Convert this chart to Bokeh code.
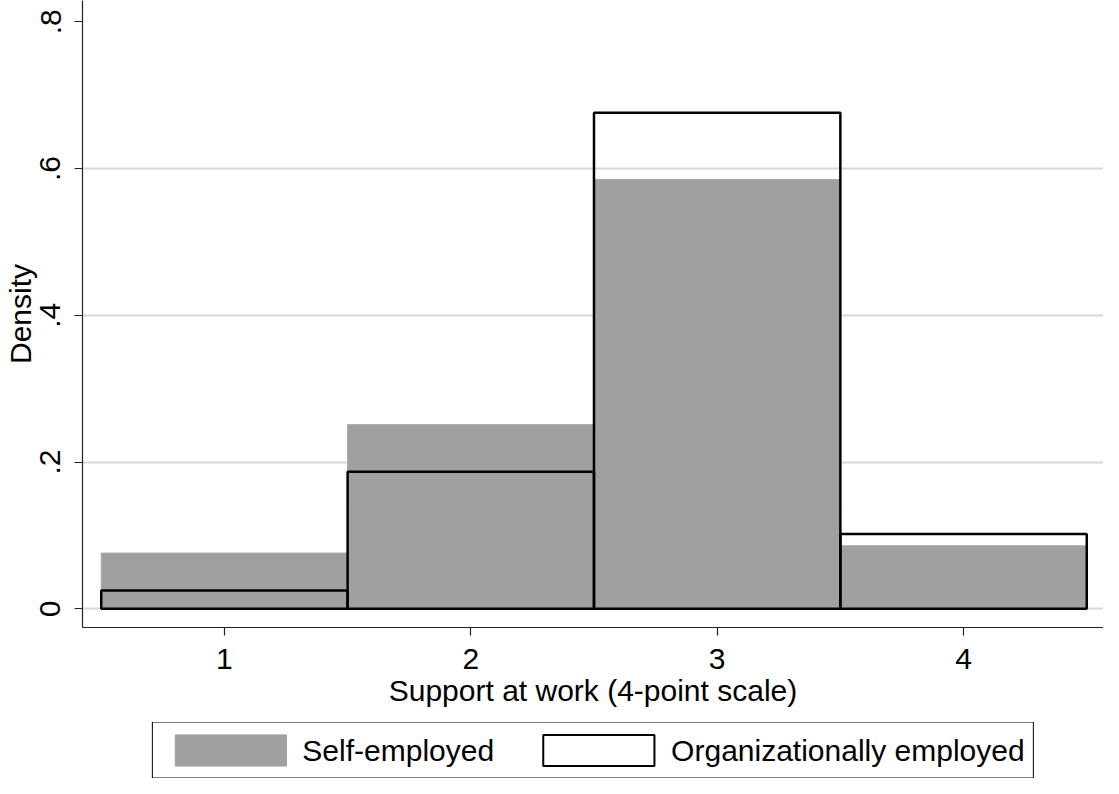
from bokeh.plotting import figure
from bokeh.layouts import column
from bokeh.models import (ColumnDataSource, Legend, LegendItem, FixedTicker,
                          CustomJSTickFormatter)
from bokeh.embed import file_html
from bokeh.resources import INLINE

# ---- data ----
categories = [1, 2, 3, 4]
self_employed = [0.076, 0.251, 0.585, 0.086]
org_employed = [0.025, 0.187, 0.676, 0.102]
y_ticks = [0, 0.2, 0.4, 0.6, 0.8]
x_ticks = [1, 2, 3, 4]
series_labels = ["Self-employed", "Organizationally employed"]

FONT = "Liberation Sans"
FS = "30px"
GRAY = "#a0a0a0"

src = ColumnDataSource(dict(
    left=[c - 0.5 for c in categories],
    right=[c + 0.5 for c in categories],
    self=self_employed,
    org=org_employed,
))

p = figure(width=1103, height=722, x_range=(0.424, 4.568), y_range=(-0.0254, 0.829),
           output_backend="svg", toolbar_location=None,
           min_border_left=82, min_border_right=0, min_border_top=0, min_border_bottom=95)
p.outline_line_color = None
p.background_fill_color = "white"
p.border_fill_color = "white"

p.quad(left="left", right="right", bottom=0, top="self", source=src,
       fill_color=GRAY, line_color="#a8a8a8", line_width=1)
p.quad(left="left", right="right", bottom=0, top="org", source=src,
       fill_alpha=0, line_color="black", line_width=2.5)

# grid
p.xgrid.visible = False
p.ygrid.ticker = FixedTicker(ticks=[0, 0.2, 0.4, 0.6])
p.ygrid.grid_line_color = "#d8d8d8"
p.ygrid.grid_line_width = 2

# axes
for ax in (p.xaxis[0], p.yaxis[0]):
    ax.axis_line_color = "#222222"
    ax.axis_line_width = 1.2
    ax.major_tick_line_color = "#222222"
    ax.major_tick_line_width = 1.2
    ax.major_tick_out = 8
    ax.major_tick_in = 0
    ax.minor_tick_line_color = None
    ax.major_label_text_font = FONT
    ax.major_label_text_font_size = FS
    ax.major_label_text_color = "black"
    ax.axis_label_text_font = FONT
    ax.axis_label_text_font_size = FS
    ax.axis_label_text_font_style = "normal"
    ax.axis_label_text_color = "black"

p.xaxis.ticker = FixedTicker(ticks=x_ticks)
p.xaxis.axis_label = "Support at work (4-point scale)"
p.xaxis.major_label_standoff = 13
p.xaxis.axis_label_standoff = 2

p.yaxis.ticker = FixedTicker(ticks=y_ticks)
p.yaxis.formatter = CustomJSTickFormatter(
    code="return tick == 0 ? '0' : tick.toFixed(1).replace(/^0/, '');")
p.yaxis.major_label_orientation = "vertical"
p.yaxis.axis_label = "Density"
p.yaxis.major_label_standoff = 14
p.yaxis.axis_label_standoff = 1

# ---- legend strip (separate figure below the plot; its bars lie outside its view) ----
lg = figure(width=1103, height=56, x_range=(10, 11), y_range=(10, 11),
            output_backend="svg", toolbar_location=None,
            x_axis_type=None, y_axis_type=None,
            min_border_left=0, min_border_right=0, min_border_top=0, min_border_bottom=0)
lg.outline_line_color = None
lg.xgrid.visible = False
lg.ygrid.visible = False
d1 = lg.quad(left="left", right="right", bottom=0, top="self", source=src,
             fill_color=GRAY, line_color=GRAY, line_width=1)
d2 = lg.quad(left="left", right="right", bottom=0, top="org", source=src,
             fill_color="white", line_color="black", line_width=2)
legend = Legend(items=[LegendItem(label=series_labels[0], renderers=[d1]),
                       LegendItem(label=series_labels[1], renderers=[d2])],
                orientation="horizontal", location="center",
                glyph_width=139, glyph_height=39, label_standoff=3, spacing=35,
                padding=8, margin=0,
                border_line_color="black", border_line_width=1, border_line_alpha=1,
                background_fill_color="white",
                label_text_font=FONT, label_text_font_size=FS, label_text_color="black")
lg.add_layout(legend)

open("out.html", "w").write(file_html(column(p, lg, spacing=0), INLINE))
